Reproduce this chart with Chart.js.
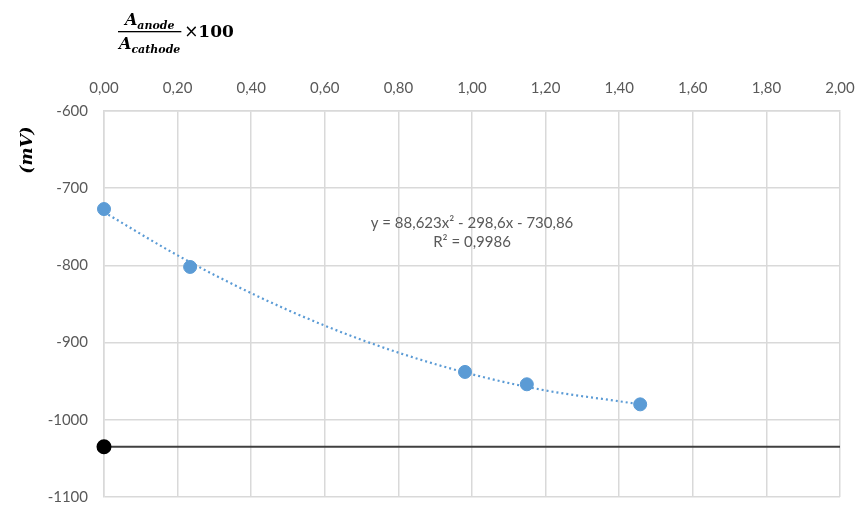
<!DOCTYPE html>
<html>
<head>
<meta charset="utf-8">
<script src="https://cdn.jsdelivr.net/npm/chart.js@4"></script>
<style>
  html, body { margin: 0; padding: 0; background: #fff; }
  #wrap { position: relative; width: 861px; height: 506px; }
</style>
</head>
<body>
<div id="wrap"><canvas id="chart"></canvas></div>
<script>
// ===== DATA =====
var xTicks = [0, 0.2, 0.4, 0.6, 0.8, 1.0, 1.2, 1.4, 1.6, 1.8, 2.0];
var yTicks = [-600, -700, -800, -900, -1000, -1100];

// measured points
var areaRatio = [0, 0.234, 0.981, 1.149, 1.457];
var potential = [-727, -802, -938, -954, -980];

// polynomial trendline
var trendX = [0, 0.2, 0.4, 0.6, 0.8, 1.0, 1.2, 1.4, 1.457];
var trendY = [-731, -787, -836, -878, -913, -941, -962, -976, -980];

// black reference line
var refX = [0, 2];
var refY = [-1035, -1035];

var equationText = "y = 88,623x² - 298,6x - 730,86";
var r2Text = "R² = 0,9986";

function pts(xs, ys) {
    var out = [];
    for (var i = 0; i < xs.length; i++) out.push({ x: xs[i], y: ys[i] });
    return out;
}

function fmt(v) {
    return v.toFixed(2).replace(".", ",");
}

var tickFont = { family: "Lato, 'Open Sans', sans-serif", size: 15 };
var gridColor = "#d9d9d9";

// ===== TEXT PLUGIN =====
var textPlugin = {
    id: "extraText",
    afterDraw: function(chart) {
        var ctx = chart.ctx;
        var xs = chart.scales.x;
        ctx.save();

        // trendline equation
        ctx.fillStyle = "#595959";
        ctx.font = "15px Lato, 'Open Sans', sans-serif";
        ctx.textAlign = "center";
        ctx.textBaseline = "middle";
        var ex = xs.getPixelForValue(1.0);
        ctx.fillText(equationText, ex, 223);
        ctx.fillText(r2Text, ex, 242);

        // y axis title (mV)
        ctx.save();
        ctx.translate(28, 150);
        ctx.rotate(-Math.PI / 2);
        ctx.fillStyle = "#000";
        ctx.font = "bold italic 17px 'DejaVu Serif', serif";
        ctx.textAlign = "center";
        ctx.fillText("(mV)", 0, 0);
        ctx.restore();

        // x axis title: A_anode / A_cathode x 100
        ctx.fillStyle = "#000";
        ctx.textAlign = "left";
        ctx.textBaseline = "alphabetic";
        var big = "bold italic 16px 'DejaVu Serif', serif";
        var small = "bold italic 11px 'DejaVu Serif', serif";
        function subWord(main, sub) {
            ctx.font = big;
            var w1 = ctx.measureText(main).width;
            ctx.font = small;
            var w2 = ctx.measureText(sub).width;
            return { w1: w1, w2: w2, total: w1 + w2 };
        }
        var num = subWord("A", "anode");
        var den = subWord("A", "cathode");
        var left = 118;
        var fracW = Math.max(num.total, den.total) + 2;
        function drawSub(m, main, sub, x, y) {
            ctx.font = big;
            ctx.fillText(main, x, y);
            ctx.font = small;
            ctx.fillText(sub, x + m.w1, y + 4);
        }
        drawSub(num, "A", "anode", left + (fracW - num.total) / 2, 25);
        drawSub(den, "A", "cathode", left + (fracW - den.total) / 2, 49);
        ctx.fillRect(left, 31, fracW, 1.3);
        ctx.font = "17px 'DejaVu Sans', sans-serif";
        ctx.fillText("×", left + fracW + 3, 37);
        ctx.font = "bold 17px 'DejaVu Serif', serif";
        ctx.fillText("100", left + fracW + 17, 37);

        ctx.restore();
    }
};

// ===== CHART =====
var chart = new Chart(document.getElementById("chart"), {
    type: "scatter",
    data: {
        datasets: [
            {
                label: "trend",
                data: pts(trendX, trendY),
                showLine: true,
                borderColor: "#5B9BD5",
                borderWidth: 2.2,
                borderDash: [2, 3],
                pointRadius: 0,
                cubicInterpolationMode: "monotone",
                clip: false,
                order: 3
            },
            {
                label: "ref",
                data: pts(refX, refY),
                showLine: true,
                borderColor: "#404040",
                borderWidth: 2,
                pointRadius: [6.5, 0],
                pointBackgroundColor: "#000",
                pointBorderColor: "#000",
                clip: false,
                order: 2
            },
            {
                label: "data",
                data: pts(areaRatio, potential),
                showLine: false,
                pointRadius: 6.5,
                pointBackgroundColor: "#5B9BD5",
                pointBorderColor: "#5B9BD5",
                clip: false,
                order: 1
            }
        ]
    },
    options: {
        responsive: true,
        maintainAspectRatio: false,
        animation: false,
        layout: { padding: { top: 0, right: 21, bottom: 9, left: 0 } },
        plugins: { legend: { display: false }, tooltip: { enabled: false } },
        scales: {
            x: {
                type: "linear",
                position: "top",
                min: 0,
                max: 2,
                afterBuildTicks: function(s) { s.ticks = xTicks.map(function(v) { return { value: v }; }); },
                afterFit: function(s) { s.height = 111; s.paddingLeft = 0; s.paddingRight = 0; },
                grid: { color: gridColor, lineWidth: 1.5, drawTicks: false },
                border: { color: gridColor, width: 1.5 },
                ticks: { font: tickFont, color: "#595959", padding: 14, maxRotation: 0, callback: function(v) { return fmt(v); } }
            },
            y: {
                type: "linear",
                min: -1100,
                max: -600,
                afterBuildTicks: function(s) { s.ticks = yTicks.map(function(v) { return { value: v }; }); },
                afterFit: function(s) { s.width = 104; s.paddingTop = 0; s.paddingBottom = 0; },
                grid: { color: gridColor, lineWidth: 1.5, drawTicks: false },
                border: { color: gridColor, width: 1.5 },
                ticks: { font: tickFont, color: "#595959", padding: 16, callback: function(v) { return String(v); } }
            }
        }
    },
    plugins: [textPlugin]
});
</script>
</body>
</html>
